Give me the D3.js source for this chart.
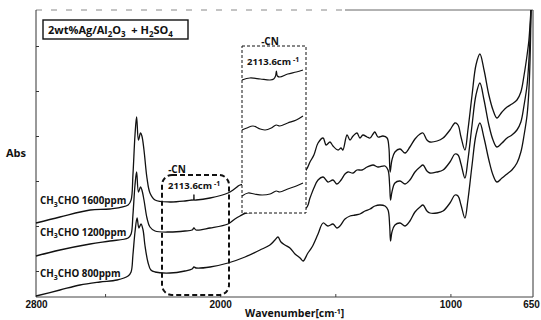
<!DOCTYPE html>
<html><head><meta charset="utf-8">
<script src="https://cdn.jsdelivr.net/npm/d3@7"></script>
<style>
body{margin:0;background:#fff}
svg{display:block}
text{font-family:"Open Sans",sans-serif;font-weight:700;fill:#111}
</style>
</head><body>
<svg id="chart" width="541" height="320"></svg>
<script>
// ---------- data ----------
const xLabelTicks = [2800, 2000, 1000, 650];
const xMinorTicks = [2500, 2000, 1500, 1000];
const yTicks = [0.26, 0.71, 1.16, 1.61, 2.06, 2.51];
const seriesNames = ["1600ppm", "1200ppm", "800ppm"];
const legendTitle = "2wt%Ag/Al2O3 + H2SO4";
const cnLabel = "-CN";
const cnPeak = 2113.6;

// [wavenumber (cm-1), absorbance (a.u., offset)]
const trace1600 = [[2800,0.74],[2696,0.80],[2565,0.87],[2479,0.88],[2400,0.92],[2387,0.97],[2379,1.22],[2370,1.62],[2363,1.80],[2355,1.57],[2346,1.64],[2340,1.61],[2331,1.47],[2318,1.19],[2305,1.04],[2283,0.97],[2218,0.95],[2153,0.96],[2122,0.97],[2116,0.97],[2114,1.02],[2112,0.97],[2105,0.97],[2044,0.99],[1966,1.04],[1944,1.07],[1927,1.10],[1914,1.12],[1827,1.15],[1719,1.21],[1653,1.24],[1627,1.27],[1610,1.35],[1593,1.42],[1575,1.54],[1553,1.59],[1540,1.52],[1523,1.55],[1510,1.51],[1488,1.47],[1475,1.49],[1467,1.47],[1449,1.62],[1436,1.57],[1423,1.61],[1406,1.64],[1393,1.59],[1380,1.62],[1362,1.60],[1349,1.59],[1336,1.63],[1328,1.65],[1315,1.60],[1293,1.61],[1275,1.59],[1267,1.49],[1262,1.25],[1254,1.37],[1241,1.45],[1219,1.48],[1197,1.44],[1176,1.50],[1154,1.58],[1132,1.63],[1119,1.64],[1102,1.57],[1089,1.55],[1058,1.56],[1032,1.59],[1002,1.67],[980,1.74],[967,1.72],[954,1.60],[937,1.47],[924,1.67],[906,2.02],[889,2.32],[872,2.43],[854,2.27],[833,2.02],[815,1.87],[798,1.79],[776,1.85],[754,1.90],[733,1.93],[711,1.97],[694,2.05],[680,2.22],[667,2.42],[659,2.57],[653,2.77],[650,2.87]];

const trace1200 = [[2800,0.41],[2696,0.47],[2565,0.53],[2479,0.56],[2400,0.59],[2387,0.63],[2379,0.82],[2370,1.12],[2363,1.25],[2355,1.05],[2346,1.10],[2340,1.07],[2331,0.97],[2318,0.79],[2305,0.70],[2283,0.66],[2218,0.65],[2153,0.66],[2122,0.67],[2114,0.69],[2105,0.67],[2044,0.69],[1966,0.73],[1936,0.78],[1914,0.81],[1888,0.84],[1827,0.85],[1719,0.87],[1627,0.89],[1610,0.99],[1593,1.09],[1575,1.17],[1553,1.20],[1532,1.15],[1510,1.17],[1493,1.13],[1475,1.17],[1458,1.23],[1445,1.25],[1423,1.24],[1406,1.27],[1384,1.27],[1362,1.30],[1336,1.32],[1315,1.30],[1284,1.31],[1271,1.27],[1264,1.12],[1260,0.97],[1254,1.05],[1241,1.14],[1219,1.16],[1197,1.13],[1176,1.17],[1154,1.25],[1132,1.30],[1119,1.32],[1102,1.26],[1089,1.24],[1058,1.25],[1032,1.27],[1002,1.35],[980,1.43],[967,1.42],[954,1.33],[937,1.19],[924,1.37],[906,1.72],[889,2.02],[872,2.14],[854,1.97],[833,1.72],[815,1.57],[798,1.50],[776,1.54],[754,1.59],[733,1.62],[711,1.67],[694,1.75],[680,1.92],[667,2.12],[659,2.37],[653,2.67],[650,2.87]];

const trace800 = [[2800,0.01],[2696,0.07],[2609,0.12],[2522,0.15],[2448,0.17],[2400,0.21],[2387,0.25],[2379,0.42],[2370,0.65],[2361,0.79],[2353,0.69],[2344,0.73],[2335,0.67],[2327,0.52],[2314,0.35],[2301,0.27],[2283,0.25],[2218,0.24],[2153,0.26],[2122,0.28],[2114,0.30],[2105,0.29],[2044,0.30],[1966,0.34],[1892,0.40],[1827,0.47],[1784,0.52],[1762,0.57],[1749,0.60],[1736,0.55],[1719,0.52],[1697,0.49],[1675,0.43],[1653,0.39],[1640,0.36],[1619,0.44],[1601,0.50],[1575,0.63],[1553,0.74],[1532,0.71],[1510,0.73],[1493,0.69],[1480,0.71],[1458,0.78],[1436,0.81],[1414,0.82],[1393,0.83],[1371,0.86],[1349,0.88],[1328,0.91],[1306,0.92],[1284,0.91],[1271,0.87],[1264,0.72],[1260,0.56],[1254,0.65],[1241,0.72],[1219,0.74],[1197,0.71],[1176,0.76],[1154,0.85],[1132,0.90],[1119,0.92],[1102,0.86],[1089,0.84],[1058,0.84],[1032,0.86],[1002,0.94],[980,1.02],[967,1.01],[954,0.92],[937,0.79],[924,0.97],[906,1.32],[889,1.62],[872,1.74],[854,1.59],[833,1.37],[815,1.22],[798,1.15],[776,1.19],[754,1.23],[733,1.27],[711,1.34],[694,1.45],[680,1.62],[667,1.82],[659,2.07],[653,2.47],[650,2.87]];

// enlarged -CN region (inset)
const inset1600 = [[2170,1.33],[2157,1.35],[2140,1.34],[2124,1.33],[2118,1.34],[2115,1.37],[2113.6,1.42],[2112,1.37],[2108,1.36],[2095,1.39],[2081,1.41],[2070,1.43]];
const inset1200 = [[2170,0.83],[2162,0.85],[2152,0.87],[2140,0.84],[2132,0.83],[2122,0.85],[2114,0.88],[2108,0.87],[2095,0.90],[2081,0.93],[2070,0.97]];
const inset800 = [[2170,0.17],[2160,0.20],[2150,0.19],[2137,0.18],[2124,0.19],[2114,0.22],[2108,0.21],[2095,0.24],[2081,0.27],[2070,0.30]];

// ---------- layout ----------
const svg = d3.select("#chart");
const L = 36, R = 531, T = 10, B = 297, FR = 533;
const x = d3.scaleLinear().domain([2800, 650]).range([L, R]);
const y = d3.scaleLinear().domain([0, 2.87]).range([B, T]);
const xi = d3.scaleLinear().domain([2170, 2070]).range([242, 303]);
const yi = d3.scaleLinear().domain([0, 1.67]).range([213, 46]);

const line = d3.line().x(d => x(d[0])).y(d => y(d[1])).curve(d3.curveCatmullRom.alpha(0.5));
const lineI = d3.line().x(d => xi(d[0])).y(d => yi(d[1])).curve(d3.curveCatmullRom.alpha(0.5));

// frame
svg.append("line").attr("x1", L).attr("x2", 345).attr("y1", T).attr("y2", T)
  .attr("stroke", "#888").attr("stroke-width", 1).attr("stroke-dasharray", "6,9");
svg.append("line").attr("x1", 345).attr("x2", FR).attr("y1", T).attr("y2", T)
  .attr("stroke", "#666").attr("stroke-width", 1);
svg.append("line").attr("x1", FR).attr("x2", FR).attr("y1", T).attr("y2", B)
  .attr("stroke", "#333").attr("stroke-width", 1);

// y axis (unlabelled)
const yAxis = d3.axisLeft(y).tickValues(yTicks).tickSize(-3).tickFormat("");
const gy = svg.append("g").attr("transform", `translate(${L},0)`).call(yAxis);
gy.select(".domain").attr("stroke", "#333").attr("d", `M0,${T}V${B}`);
gy.selectAll(".tick line").attr("stroke", "#333");

// x axis minor ticks
const gx = svg.append("g").attr("transform", `translate(0,${B})`)
  .call(d3.axisBottom(x).tickValues(xMinorTicks).tickSize(-3).tickFormat(""));
gx.select(".domain").attr("stroke", "#444").attr("d", `M${L},0H${FR}`);
gx.selectAll(".tick line").attr("stroke", "#444");

// x axis labels
const gxl = svg.append("g").attr("transform", `translate(0,${B})`)
  .call(d3.axisBottom(x).tickValues(xLabelTicks).tickSize(0).tickPadding(4).tickFormat(d3.format("d")));
gxl.select(".domain").remove();
gxl.selectAll("text").style("font-family", "'Liberation Sans',Arial,sans-serif")
  .style("font-weight", "700").style("font-size", "10px").attr("fill", "#222");

// traces
const traces = [trace1600, trace1200, trace800];
svg.append("g").selectAll("path").data(traces).join("path")
  .attr("d", line).attr("fill", "none").attr("stroke", "#111")
  .attr("stroke-width", 1.3).attr("stroke-linejoin", "round");

// box 1 (enlarged inset)
svg.append("rect").attr("x", 242).attr("y", 46).attr("width", 64).attr("height", 167)
  .attr("fill", "#fff").attr("stroke", "#111").attr("stroke-width", 1)
  .attr("stroke-dasharray", "3,2");
svg.append("g").selectAll("path").data([inset1600, inset1200, inset800]).join("path")
  .attr("d", lineI).attr("fill", "none").attr("stroke", "#111")
  .attr("stroke-width", 1.2).attr("stroke-linejoin", "round");

// box 2 (rounded)
svg.append("rect").attr("x", 162).attr("y", 175).attr("width", 67).attr("height", 120)
  .attr("rx", 10).attr("ry", 10)
  .attr("fill", "none").attr("stroke", "#111").attr("stroke-width", 2)
  .attr("stroke-dasharray", "5,3");

// texts
function sub(t, s) { t.append("tspan").attr("dy", 3).style("font-size", "0.7em").text(s); t.append("tspan").attr("dy", -3).text(""); }

const lg = svg.append("g");
lg.append("rect").attr("x", 43).attr("y", 20).attr("width", 145).attr("height", 19)
  .attr("fill", "#fff").attr("stroke", "#111").attr("stroke-width", 1.4);
const lt = lg.append("text").attr("x", 48).attr("y", 33.5).style("font-size", "11px");
lt.append("tspan").text("2wt%Ag/Al");
lt.append("tspan").attr("dy", 3).style("font-size", "8px").text("2");
lt.append("tspan").attr("dy", -3).text("O");
lt.append("tspan").attr("dy", 3).style("font-size", "8px").text("3");
lt.append("tspan").attr("dy", -3).text("  + H").attr("xml:space", "preserve");
lt.append("tspan").attr("dy", 3).style("font-size", "8px").text("2");
lt.append("tspan").attr("dy", -3).text("SO");
lt.append("tspan").attr("dy", 3).style("font-size", "8px").text("4");
lt.attr("xml:space", "preserve");

function cnText(xp, yp) {
  const t = svg.append("text").attr("x", xp).attr("y", yp).style("font-size", "9.5px");
  t.append("tspan").text(cnPeak.toFixed(1) + "cm");
  t.append("tspan").attr("dx", 2).attr("dy", -3).style("font-size", "7px").text("-1");
}
svg.append("text").attr("x", 270).attr("y", 45).attr("text-anchor", "middle")
  .style("font-size", "10px").text(cnLabel);
cnText(247, 65);
svg.append("text").attr("x", 177).attr("y", 172.5).attr("text-anchor", "middle")
  .style("font-size", "10px").text(cnLabel);
cnText(168, 189);

const labelY = [204, 235.5, 277];
seriesNames.forEach((n, i) => {
  const t = svg.append("text").attr("x", 40).attr("y", labelY[i]).style("font-size", "9.8px");
  t.append("tspan").text("CH");
  t.append("tspan").attr("dy", 2.5).style("font-size", "7px").text("3");
  t.append("tspan").attr("dy", -2.5).text("CHO " + n);
});

svg.append("text").attr("x", 6).attr("y", 157).style("font-size", "11px").text("Abs");

const xt = svg.append("text").attr("x", 245).attr("y", 317).style("font-size", "10.5px");
xt.append("tspan").text("Wavenumber[cm");
xt.append("tspan").attr("dy", -3.5).style("font-size", "7px").text("-1");
xt.append("tspan").attr("dy", 3.5).text("]");
</script>
</body></html>
